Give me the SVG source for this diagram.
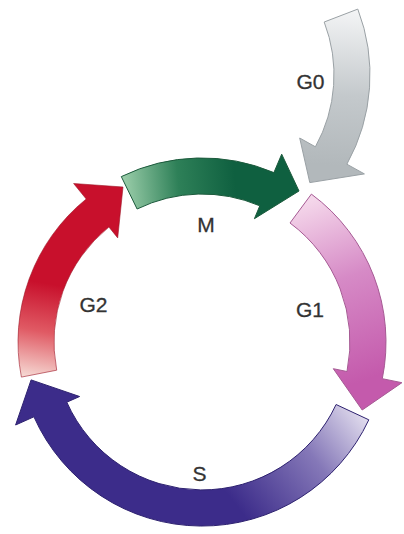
<svg xmlns="http://www.w3.org/2000/svg" width="404" height="534" viewBox="0 0 404 534">
  <style>
    .lbl { font-family: "Liberation Sans", Arial, sans-serif; font-size: 21px; fill: #333333; text-anchor: middle; stroke: #333333; stroke-width: 0.3; }
    .arrow { stroke-width: 1; stroke-linejoin: round; }
  </style>
  <defs>
    <linearGradient id="gG0" gradientUnits="userSpaceOnUse" x1="340" y1="8" x2="330" y2="165">
      <stop offset="0" stop-color="#f4f5f6"/>
      <stop offset="0.55" stop-color="#c4c9cc"/>
      <stop offset="1" stop-color="#b2b8bb"/>
    </linearGradient>
    <linearGradient id="gG1" gradientUnits="userSpaceOnUse" x1="300" y1="205" x2="365" y2="380">
      <stop offset="0" stop-color="#f4d6ea"/>
      <stop offset="0.45" stop-color="#d68ac6"/>
      <stop offset="1" stop-color="#c45aac"/>
    </linearGradient>
    <linearGradient id="gS" gradientUnits="userSpaceOnUse" x1="370" y1="410" x2="240" y2="510">
      <stop offset="0" stop-color="#ece8f4"/>
      <stop offset="0.45" stop-color="#8578b8"/>
      <stop offset="1" stop-color="#3c2c8a"/>
    </linearGradient>
    <linearGradient id="gG2" gradientUnits="userSpaceOnUse" x1="38" y1="380" x2="55" y2="285">
      <stop offset="0" stop-color="#f6dcd6"/>
      <stop offset="0.5" stop-color="#e05a64"/>
      <stop offset="1" stop-color="#c8102c"/>
    </linearGradient>
    <linearGradient id="gM" gradientUnits="userSpaceOnUse" x1="122" y1="190" x2="235" y2="180">
      <stop offset="0" stop-color="#9ed0ac"/>
      <stop offset="0.5" stop-color="#2e8058"/>
      <stop offset="1" stop-color="#0f6040"/>
    </linearGradient>
  </defs>
  <rect width="404" height="534" fill="#ffffff"/>

  <g id="arrows">
    <g id="G0-arrow">
      <path class="arrow" fill="url(#gG0)" stroke="#9aa1a5" d="M 357.8,9.1 A 184 184 0 0 1 346.9,164.2 L 364.4,173.9 L 309.8,182.6 L 299.7,138.0 L 315.4,146.8 A 148 148 0 0 0 324.2,22.0 Z"/>
    </g>
    <g id="M-arrow">
      <path class="arrow" fill="url(#gM)" stroke="#1c5a3c" d="M 121.3,176.6 A 184 184 0 0 1 273.9,172.6 L 281.7,154.2 L 299,191 L 254.4,218.7 L 259.8,205.8 A 148 148 0 0 0 137.1,209.0 Z"/>
    </g>
    <g id="G1-arrow">
      <path class="arrow" fill="url(#gG1)" stroke="#a65a94" d="M 311.4,194.1 A 184 184 0 0 1 382.3,378.7 L 401.9,382.7 L 362.2,410 L 333.3,368.7 L 347.0,371.5 A 148 148 0 0 0 290.0,223.0 Z"/>
    </g>
    <g id="S-arrow">
      <path class="arrow" fill="url(#gS)" stroke="#2e2270" d="M 368.8,419.8 A 184 184 0 0 1 33.9,416.8 L 15.6,425.0 L 31.1,379.9 L 79.6,396.5 L 66.8,402.2 A 148 148 0 0 0 336.1,404.5 Z"/>
    </g>
    <g id="G2-arrow">
      <path class="arrow" fill="url(#gG2)" stroke="#9c1424" stroke-opacity="0.6" d="M 21.4,377.1 A 184 184 0 0 1 86.2,199.0 L 73.6,183.5 L 123.0,187.0 L 117.7,237.9 L 108.9,227.0 A 148 148 0 0 0 56.7,370.2 Z"/>
    </g>
  </g>

  <g id="G0"><text class="lbl" x="310.5" y="88.5">G0</text></g>
  <g id="M"><text class="lbl" x="206" y="231.5">M</text></g>
  <g id="G1"><text class="lbl" x="310" y="317">G1</text></g>
  <g id="G2"><text class="lbl" x="93.5" y="311.5">G2</text></g>
  <g id="S"><text class="lbl" x="199.5" y="480.5">S</text></g>
</svg>
